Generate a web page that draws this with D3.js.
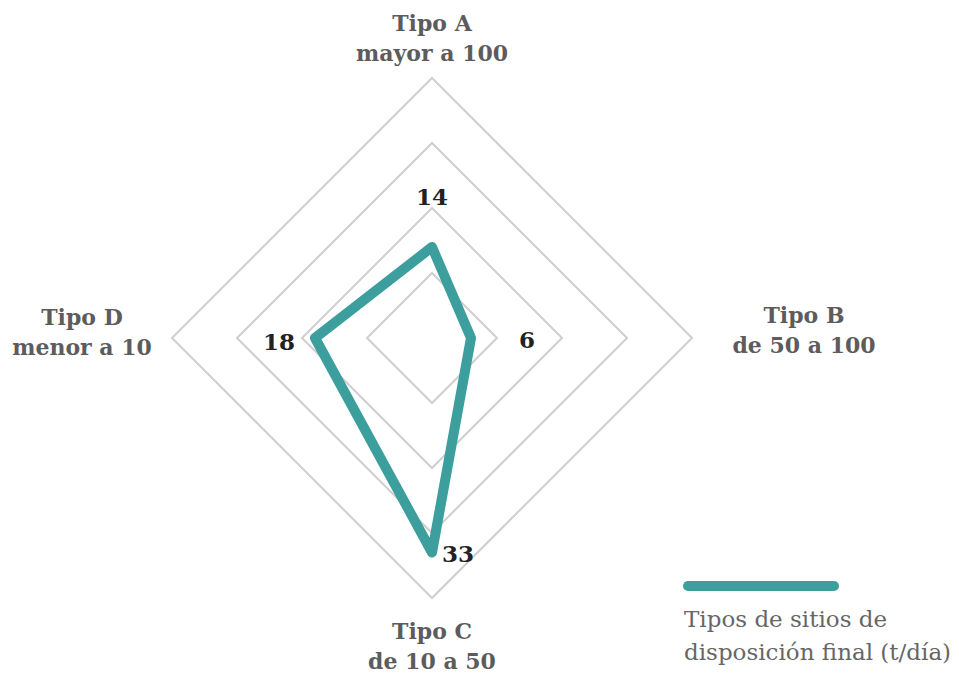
<!DOCTYPE html>
<html><head><meta charset="utf-8">
<script src="https://cdn.jsdelivr.net/npm/d3@7"></script>
<style>body{margin:0;background:#fff}svg{display:block}</style>
</head><body>
<svg id="c" width="959" height="675"></svg>
<script>
const axes = ["A","B","C","D"];
const axisTitles = [["Tipo A","mayor a 100"],["Tipo B","de 50 a 100"],["Tipo C","de 10 a 50"],["Tipo D","menor a 10"]];
const values = [14, 6, 33, 18];
const gridLevels = [10, 20, 30, 40];
const legendLines = ["Tipos de sitios de", "disposición final (t/día)"];

const svg = d3.select("#c");
const cx = 432, cy = 338;
const r = d3.scaleLinear().domain([0, 40]).range([0, 260]);
const ang = d3.scalePoint().domain(axes).range([0, 270]);
const pt = (a, v) => { const t = (ang(a) - 90) * Math.PI / 180; return [cx + r(v) * Math.cos(t), cy + r(v) * Math.sin(t)]; };
const line = d3.line().curve(d3.curveLinearClosed);

svg.append("g").selectAll("path").data(gridLevels).join("path")
  .attr("d", lv => line(axes.map(a => pt(a, lv))))
  .attr("fill", "none").attr("stroke", "#cfcfcf").attr("stroke-width", 2);

svg.append("path").attr("d", line(axes.map((a, i) => pt(a, values[i]))))
  .attr("fill", "none").attr("stroke", "#3d9e9e").attr("stroke-width", 10).attr("stroke-linejoin", "round");

const serif = "'DejaVu Serif', serif";
// axis titles
const titlePos = [[432, 31], [804, 323], [432, 639], [82, 325]];
axisTitles.forEach((t, i) => {
  const g = svg.append("text").attr("text-anchor", "middle").attr("font-family", serif)
    .attr("font-weight", "bold").attr("font-size", 22).attr("fill", "#5c5c5c");
  t.forEach((s, j) => g.append("tspan").attr("x", titlePos[i][0]).attr("y", titlePos[i][1] + j * 30).text(s));
});

// value labels
const valOff = [[0, -42], [56, 10], [26, 9], [-36, 12]];
axes.forEach((a, i) => {
  const p = pt(a, values[i]);
  svg.append("text").attr("x", p[0] + valOff[i][0]).attr("y", p[1] + valOff[i][1])
    .attr("text-anchor", "middle").attr("font-family", serif).attr("font-weight", "bold")
    .attr("font-size", 23).attr("fill", "#222").text(values[i]);
});

// legend
svg.append("line").attr("x1", 688).attr("x2", 834).attr("y1", 586).attr("y2", 586)
  .attr("stroke", "#3d9e9e").attr("stroke-width", 10).attr("stroke-linecap", "round");
legendLines.forEach((s, j) => svg.append("text").attr("x", 684).attr("y", 627 + j * 33)
  .attr("font-family", serif).attr("font-size", 23).attr("fill", "#666").text(s));
</script>
</body></html>
